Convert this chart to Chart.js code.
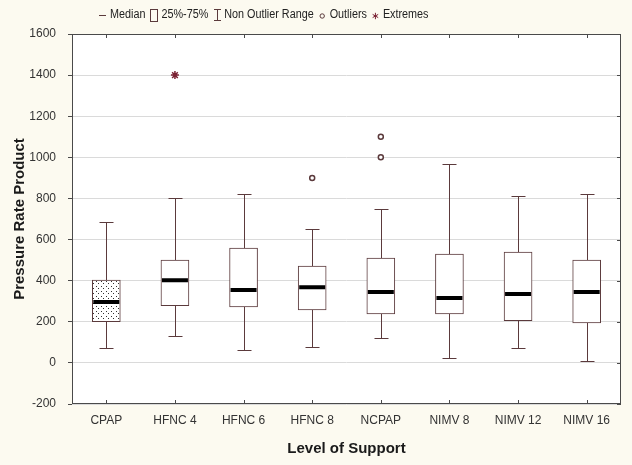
<!DOCTYPE html>
<html>
<head>
<meta charset="utf-8">
<script src="https://cdn.jsdelivr.net/npm/chart.js@4"></script>
<style>
  html, body { margin: 0; padding: 0; background: #fcfaf0; }
  #wrap { width: 632px; height: 465px; }
</style>
</head>
<body>
<div id="wrap"><canvas id="boxChart" width="632" height="465"></canvas></div>
<script>
// Data
const categories = ['CPAP', 'HFNC 4', 'HFNC 6', 'HFNC 8', 'NCPAP', 'NIMV 8', 'NIMV 12', 'NIMV 16'];
const whiskerLow = [73, 131, 63, 78, 121, 24, 73, 10];
const q1 = [200, 278, 272, 258, 238, 238, 205, 195];
const medians = [296, 402, 354, 368, 345, 316, 335, 345];
const q3 = [403, 500, 558, 471, 510, 529, 539, 500];
const whiskerHigh = [684, 800, 820, 650, 748, 970, 811, 820];
const outlierCats = ['HFNC 8', 'NCPAP', 'NCPAP'];
const outlierValues = [900, 1000, 1100];
const extremeCats = ['HFNC 4'];
const extremeValues = [1400];
const yMin = -200, yMax = 1600, yStep = 200;

const boxColor = '#5b3a3c';
const frameColor = '#4a4a4a';

// dotted fill for the first box
function dotPattern() {
    const c = document.createElement('canvas');
    c.width = 5; c.height = 5;
    const g = c.getContext('2d');
    g.fillStyle = '#ffffff';
    g.fillRect(0, 0, 5, 5);
    g.fillStyle = '#333';
    g.fillRect(1, 1, 1, 1);
    g.fillRect(3, 3, 1, 1);
    return g.createPattern(c, 'repeat');
}

// background, frame and inner tick marks
const framePlugin = {
    id: 'frame',
    beforeDraw(chart) {
        const { ctx, chartArea: a } = chart;
        ctx.save();
        ctx.fillStyle = '#fcfaf0';
        ctx.fillRect(0, 0, chart.width, chart.height);
        ctx.fillStyle = '#ffffff';
        ctx.fillRect(a.left, a.top, a.right - a.left, a.bottom - a.top);
        ctx.restore();
    },
    afterDraw(chart) {
        const { ctx, chartArea: a, scales } = chart;
        ctx.save();
        ctx.strokeStyle = frameColor;
        ctx.lineWidth = 1;
        ctx.strokeRect(a.left + 0.5, a.top + 0.5, a.right - a.left - 1, a.bottom - a.top - 1);
        ctx.beginPath();
        categories.forEach((c, i) => {
            const x = Math.round(scales.x.getPixelForValue(i)) + 0.5;
            ctx.moveTo(x, a.top); ctx.lineTo(x, a.top + 4);
            ctx.moveTo(x, a.bottom); ctx.lineTo(x, a.bottom - 4);
        });
        for (let v = yMin; v <= yMax; v += yStep) {
            const y = Math.round(scales.y.getPixelForValue(v)) + 0.5;
            ctx.moveTo(a.right, y); ctx.lineTo(a.right - 4, y);
        }
        ctx.stroke();
        ctx.restore();
    }
};

// whiskers behind the boxes, medians on top
const boxPlugin = {
    id: 'boxParts',
    beforeDatasetsDraw(chart) {
        const { ctx, scales } = chart;
        const y = scales.y;
        ctx.save();
        ctx.strokeStyle = boxColor;
        ctx.lineWidth = 1;
        ctx.beginPath();
        categories.forEach((c, i) => {
            const x = Math.round(scales.x.getPixelForValue(i)) + 0.5;
            const lo = Math.round(y.getPixelForValue(whiskerLow[i])) + 0.5;
            const hi = Math.round(y.getPixelForValue(whiskerHigh[i])) + 0.5;
            ctx.moveTo(x, lo); ctx.lineTo(x, y.getPixelForValue(q1[i]));
            ctx.moveTo(x, hi); ctx.lineTo(x, y.getPixelForValue(q3[i]));
            ctx.moveTo(x - 7, lo); ctx.lineTo(x + 7, lo);
            ctx.moveTo(x - 7, hi); ctx.lineTo(x + 7, hi);
        });
        ctx.stroke();
        ctx.restore();
    },
    afterDatasetsDraw(chart) {
        const { ctx, scales } = chart;
        const meta = chart.getDatasetMeta(0);
        ctx.save();
        ctx.strokeStyle = '#000';
        ctx.lineWidth = 4;
        ctx.beginPath();
        medians.forEach((m, i) => {
            const bar = meta.data[i];
            const yy = scales.y.getPixelForValue(m);
            ctx.moveTo(bar.x - bar.width / 2 + 1, yy);
            ctx.lineTo(bar.x + bar.width / 2 - 1, yy);
        });
        ctx.stroke();
        ctx.restore();
    }
};

// legend strip above the plot
const legendPlugin = {
    id: 'boxLegend',
    afterDraw(chart) {
        const ctx = chart.ctx;
        const items = [
            { sym: 'median', text: 'Median' },
            { sym: 'box', text: '25%-75%' },
            { sym: 'range', text: 'Non Outlier Range' },
            { sym: 'circle', text: 'Outliers' },
            { sym: 'star', text: 'Extremes' }
        ];
        ctx.save();
        ctx.font = '12px "Liberation Sans", Arial, sans-serif';
        ctx.textBaseline = 'middle';
        const symW = 7, gap = 4, sep = 5;
        let x = 99;
        const y = 15;
        items.forEach(it => {
            const cx = x + symW / 2;
            ctx.strokeStyle = boxColor;
            ctx.lineWidth = 1;
            ctx.beginPath();
            if (it.sym === 'median') {
                ctx.moveTo(x, y + 0.5); ctx.lineTo(x + symW, y + 0.5);
                ctx.stroke();
            } else if (it.sym === 'box') {
                ctx.strokeRect(Math.round(x) + 0.5, y - 5.5, 7, 12);
            } else if (it.sym === 'range') {
                const px = Math.round(cx) + 0.5;
                ctx.moveTo(px - 3.5, y - 5.5); ctx.lineTo(px + 3.5, y - 5.5);
                ctx.moveTo(px, y - 5.5); ctx.lineTo(px, y + 5.5);
                ctx.moveTo(px - 3.5, y + 5.5); ctx.lineTo(px + 3.5, y + 5.5);
                ctx.stroke();
            } else if (it.sym === 'circle') {
                ctx.arc(cx, y + 1, 2.2, 0, Math.PI * 2);
                ctx.stroke();
            } else {
                ctx.strokeStyle = '#7a2233';
                for (let k = 0; k < 3; k++) {
                    const ang = Math.PI / 2 + k * Math.PI / 3;
                    ctx.moveTo(cx - 3.2 * Math.cos(ang), y + 1 - 3.2 * Math.sin(ang));
                    ctx.lineTo(cx + 3.2 * Math.cos(ang), y + 1 + 3.2 * Math.sin(ang));
                }
                ctx.stroke();
            }
            x += symW + gap;
            ctx.fillStyle = '#222';
            // slightly condensed legend text, as in the original
            const w = ctx.measureText(it.text).width;
            ctx.save();
            ctx.translate(x, y);
            ctx.scale(0.9, 1);
            ctx.fillText(it.text, 0, 0);
            ctx.restore();
            x += w * 0.9 + sep;
        });
        ctx.restore();
    }
};

const tickFont = { family: '"Liberation Sans", Arial, sans-serif', size: 12 };
const titleFont = { family: '"Liberation Sans", Arial, sans-serif', size: 15, weight: 'bold' };

new Chart(document.getElementById('boxChart'), {
    type: 'bar',
    data: {
        labels: categories,
        datasets: [
            {
                label: '25%-75%',
                data: categories.map((c, i) => [q1[i], q3[i]]),
                backgroundColor: categories.map((c, i) => i === 0 ? dotPattern() : '#ffffff'),
                borderColor: boxColor,
                borderWidth: 1,
                borderSkipped: false,
                barThickness: 28
            },
            {
                type: 'line',
                label: 'Outliers',
                data: outlierCats.map((c, i) => ({ x: c, y: outlierValues[i] })),
                showLine: false,
                pointStyle: 'circle',
                pointRadius: 2.5,
                pointBorderWidth: 1.5,
                pointBackgroundColor: '#ffffff',
                pointBorderColor: boxColor
            },
            {
                type: 'line',
                label: 'Extremes',
                data: extremeCats.map((c, i) => ({ x: c, y: extremeValues[i] })),
                showLine: false,
                pointStyle: 'star',
                pointRadius: 4,
                pointBorderWidth: 1.5,
                pointBorderColor: '#7a2233'
            }
        ]
    },
    options: {
        responsive: false,
        animation: false,
        layout: { padding: { top: 34, right: 11, left: 0, bottom: 0 } },
        scales: {
            x: {
                grid: { display: false },
                border: { display: false },
                ticks: { color: '#333', font: tickFont, padding: 1 },
                title: { display: true, text: 'Level of Support', color: '#1a1a1a', font: titleFont, padding: { top: 2, bottom: 7 } },
                afterFit(scale) { scale.height = 61; }
            },
            y: {
                min: yMin,
                max: yMax,
                ticks: {
                    stepSize: yStep, color: '#333', font: tickFont, padding: 12,
                    callback: v => String(v)
                },
                grid: { color: '#dadada', tickColor: frameColor, tickLength: 4 },
                border: { display: false },
                title: { display: true, text: 'Pressure Rate Product', color: '#1a1a1a', font: titleFont, padding: { top: 11, bottom: 0 } },
                afterFit(scale) { scale.width = 72; }
            }
        },
        plugins: {
            legend: { display: false },
            tooltip: { enabled: false }
        }
    },
    plugins: [framePlugin, boxPlugin, legendPlugin]
});
</script>
</body>
</html>
